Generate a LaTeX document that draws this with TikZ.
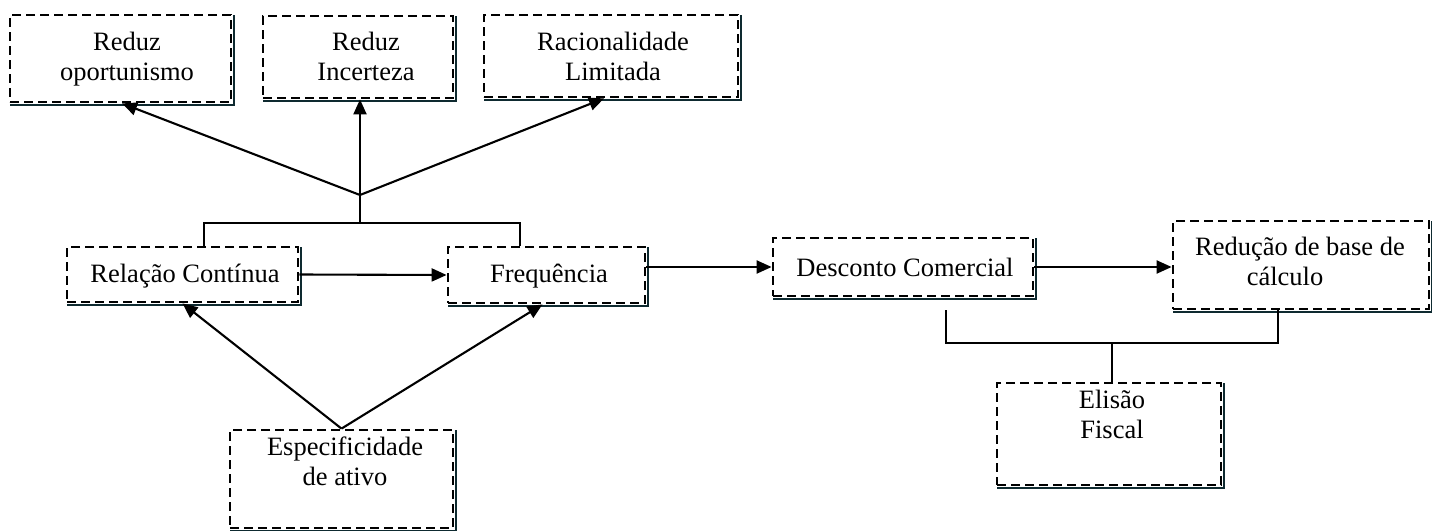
\documentclass[tikz,border=0pt]{standalone}
\usepackage{fontspec}
\setmainfont{Liberation Serif}
\usetikzlibrary{arrows.meta,calc}
\definecolor{shadowc}{HTML}{0E2A30}
% two centred lines whose outer baseline is the first line
\newcommand\twoln[2]{\begin{tabular}[t]{@{}c@{}}#1\\#2\end{tabular}}
% dark rim along the lower and right edges of a box
\newcommand\boxshadow[1]{%
  \draw[rim] ([shift={(1.7,1.7)}]#1.south west) -- ([shift={(1.7,1.7)}]#1.south east)
             -- ([shift={(1.7,1.7)}]#1.north east);}

\begin{document}
\begin{tikzpicture}[x=1pt,y=-1pt,
  every node/.style={font=\fontsize{26.5}{30}\selectfont},
  box/.style={draw=black, line width=2.8pt, dash pattern=on 9pt off 5pt,
              inner sep=0pt, fill=white},
  rim/.style={draw=shadowc, line width=1.8pt},
  lbl/.style={anchor=base, inner sep=0pt},
  conn/.style={line width=2.1pt},
  arr/.style={conn, -{Triangle[length=15pt,width=13pt]}}]

\useasboundingbox[fill=white] (0,0) rectangle (1432,530);

% boxes
\node[box, minimum width=221pt, minimum height=87pt]  (A) at (120.5,58.5) {};
\node[box, minimum width=190pt, minimum height=82pt]  (B) at (358,57) {};
\node[box, minimum width=254pt, minimum height=82pt]  (C) at (611,56) {};
\node[box, minimum width=231pt, minimum height=55pt]  (D) at (182.5,274.5) {};
\node[box, minimum width=197pt, minimum height=56pt]  (E) at (546.5,275) {};
\node[box, minimum width=260pt, minimum height=58pt]  (F) at (903,267) {};
\node[box, minimum width=256pt, minimum height=88pt]  (G) at (1301,265) {};
\node[box, minimum width=224pt, minimum height=102pt] (H) at (1109,434) {};
\node[box, minimum width=223pt, minimum height=98pt]  (I) at (341.5,479) {};
\foreach \b in {A,B,C,D,E,F,G,H,I} {\boxshadow{\b}}

% labels
\node[lbl] (tA) at (127,50)  {\twoln{Reduz}{oportunismo}};
\node[lbl] (tB) at (366,50)  {\twoln{Reduz}{Incerteza}};
\node[lbl] (tC) at (613,50)  {\twoln{Racionalidade}{Limitada}};
\node[lbl] (tD) at (185,282) {Relação Contínua};
\node[lbl] (tE) at (549,282) {Frequência};
\node[lbl] (tF) at (905,276) {Desconto Comercial};
\node[lbl] (tG) at (1300,255) {\twoln{Redução de base de}{cálculo\hspace*{30pt}}};
\node[lbl] (tH) at (1112,408) {\twoln{Elisão}{Fiscal}};
\node[lbl] (tI) at (345,455) {\twoln{Especificidade}{de ativo}};

% junction above the two lower boxes
\coordinate (J)  at (360,195);
\coordinate (Jb) at (360,223);
\coordinate (Bl) at (204,223);
\coordinate (Br) at (520,223);
\draw[arr] (J) -- ([xshift=1.5pt]A.south);
\draw[arr] (J) -- (J |- B.south);
\draw[arr] (J) -- ([xshift=-7pt]C.south);
\draw[conn] (J) -- (Jb);
\draw[conn] (Bl |- D.north) -- (Bl) -- (Br) -- (Br |- E.north);

% main chain
\draw[arr] (D.east) -- (E.west);
\draw[arr] (E.east |- F.west) -- (F.west);
\draw[arr] (F.east) -- (F.east -| G.west);

% rising arrows from the asset box
\draw[arr] (I.north) -- (D.south);
\draw[arr] (I.north) -- ([xshift=-4pt]E.south);

% bracket down to the last box
\coordinate (Fd) at (946,310);
\coordinate (bl) at (946,343);
\coordinate (br) at (1278,343);
\coordinate (bm) at (1112,343);
\draw[conn] (Fd) -- (bl) -- (br) -- (br |- G.south);
\draw[conn, line width=2.8pt] (bm) -- (bm |- H.north);
\end{tikzpicture}
\end{document}
